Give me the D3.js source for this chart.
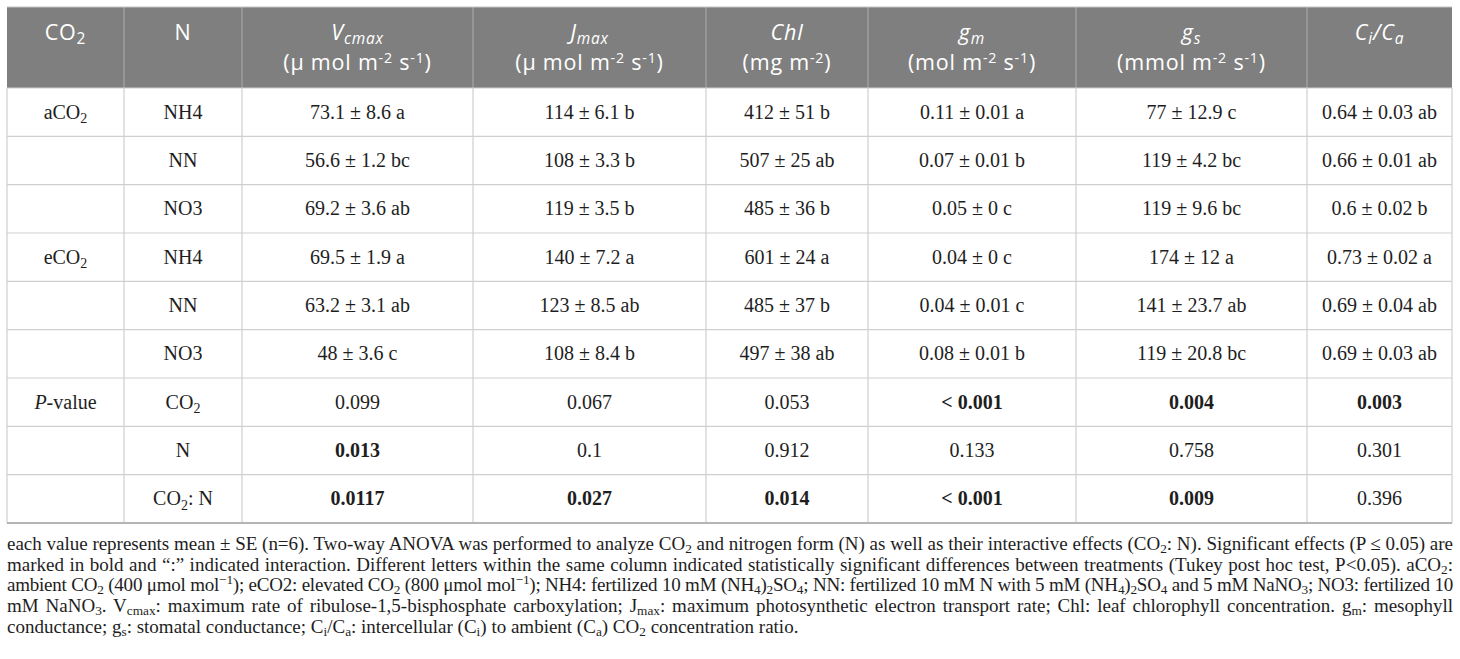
<!DOCTYPE html>
<html>
<head>
<meta charset="utf-8">
<script src="https://cdn.jsdelivr.net/npm/d3@7"></script>
<style>
	body { margin: 0; background: #fff; }
	#tbl { position: absolute; left: 0; top: 0; }
	#note {
		position: absolute; left: 7px; top: 534px; width: 1446px;
		font-family: "Liberation Serif", serif; font-size: 19px; line-height: 20.7px; color: #1e1e1e;
	}
	#note div { text-align: justify; text-align-last: justify; white-space: nowrap; }
	#note div.last { text-align-last: left; }
	#note sub, #note sup { font-size: 0.7em; line-height: 0; }
	#note sub { vertical-align: -0.25em; }
	#note sup { vertical-align: 0.5em; }
</style>
</head>
<body>
<svg id="tbl"></svg>
<div id="note"></div>
<script>
// Page size
const width = 1460;
const height = 659;

// Table frame
const tableLeft = 7;
const tableTop = 7;
const headerBottom = 88;
const tableBottom = 523;
const colWidths = [117, 118, 231, 233, 162, 208, 231, 145];

// Header text (_{..} subscript, ^{..} superscript, *..* italic)
const headerTop = ["CO_{2}", "N", "*V*_{*cmax*}", "*J*_{*max*}", "*Chl*", "*g*_{*m*}", "*g*_{*s*}", "*C*_{*i*}*/C*_{*a*}"];
const headerUnits = ["", "", "(μ mol m^{-2} s^{-1})", "(μ mol m^{-2} s^{-1})", "(mg m^{-2})", "(mol m^{-2} s^{-1})", "(mmol m^{-2} s^{-1})", ""];

// Row labels
const co2Labels = ["aCO_{2}", "", "", "eCO_{2}", "", "", "*P*-value", "", ""];
const nLabels = ["NH4", "NN", "NO3", "NH4", "NN", "NO3", "CO_{2}", "N", "CO_{2}: N"];

// Means ± SE with Tukey letters
const vcmax = ["73.1 ± 8.6 a", "56.6 ± 1.2 bc", "69.2 ± 3.6 ab", "69.5 ± 1.9 a", "63.2 ± 3.1 ab", "48 ± 3.6 c"];
const jmax = ["114 ± 6.1 b", "108 ± 3.3 b", "119 ± 3.5 b", "140 ± 7.2 a", "123 ± 8.5 ab", "108 ± 8.4 b"];
const chl = ["412 ± 51 b", "507 ± 25 ab", "485 ± 36 b", "601 ± 24 a", "485 ± 37 b", "497 ± 38 ab"];
const gm = ["0.11 ± 0.01 a", "0.07 ± 0.01 b", "0.05 ± 0 c", "0.04 ± 0 c", "0.04 ± 0.01 c", "0.08 ± 0.01 b"];
const gs = ["77 ± 12.9 c", "119 ± 4.2 bc", "119 ± 9.6 bc", "174 ± 12 a", "141 ± 23.7 ab", "119 ± 20.8 bc"];
const cica = ["0.64 ± 0.03 ab", "0.66 ± 0.01 ab", "0.6 ± 0.02 b", "0.73 ± 0.02 a", "0.69 ± 0.04 ab", "0.69 ± 0.03 ab"];

// ANOVA P-values (columns Vcmax .. Ci/Ca) and which are significant (bold)
const pCO2 = ["0.099", "0.067", "0.053", "< 0.001", "0.004", "0.003"];
const pCO2Bold = [false, false, false, true, true, true];
const pN = ["0.013", "0.1", "0.912", "0.133", "0.758", "0.301"];
const pNBold = [true, false, false, false, false, false];
const pInt = ["0.0117", "0.027", "0.014", "< 0.001", "0.009", "0.396"];
const pIntBold = [true, true, true, true, true, false];

// Footnote lines
const noteLines = [
	"each value represents mean ± SE (n=6). Two-way ANOVA was performed to analyze CO<sub>2</sub> and nitrogen form (N) as well as their interactive effects (CO<sub>2</sub>: N). Significant effects (P ≤ 0.05) are",
	"marked in bold and “:” indicated interaction. Different letters within the same column indicated statistically significant differences between treatments (Tukey post hoc test, P&lt;0.05). aCO<sub>2</sub>:",
	"ambient CO<sub>2</sub> (400 μmol mol<sup>−1</sup>); eCO2: elevated CO<sub>2</sub> (800 μmol mol<sup>−1</sup>); NH4: fertilized 10 mM (NH<sub>4</sub>)<sub>2</sub>SO<sub>4</sub>; NN: fertilized 10 mM N with 5 mM (NH<sub>4</sub>)<sub>2</sub>SO<sub>4</sub> and 5 mM NaNO<sub>3</sub>; NO3: fertilized 10",
	"mM NaNO<sub>3</sub>. V<sub>cmax</sub>: maximum rate of ribulose-1,5-bisphosphate carboxylation; J<sub>max</sub>: maximum photosynthetic electron transport rate; Chl: leaf chlorophyll concentration. g<sub>m</sub>: mesophyll",
	"conductance; g<sub>s</sub>: stomatal conductance; C<sub>i</sub>/C<sub>a</sub>: intercellular (C<sub>i</sub>) to ambient (C<sub>a</sub>) CO<sub>2</sub> concentration ratio.",
];

// Build cell table
const valueCols = [vcmax, jmax, chl, gm, gs, cica];
const pRows = [[pCO2, pCO2Bold], [pN, pNBold], [pInt, pIntBold]];
const cells = [];
co2Labels.forEach((lab, r) => {
	cells.push({ r, c: 0, text: lab, bold: false });
	cells.push({ r, c: 1, text: nLabels[r], bold: false });
	valueCols.forEach((col, k) => {
		if (r < 6) {
			cells.push({ r, c: k + 2, text: col[r], bold: false });
		} else {
			const [vals, bolds] = pRows[r - 6];
			cells.push({ r, c: k + 2, text: vals[k], bold: bolds[k] });
		}
	});
});

// Column positions from widths
const colEdges = [tableLeft, ...d3.cumsum(colWidths).map((w) => tableLeft + w)];
const tableRight = colEdges[colEdges.length - 1];
const xMid = (c) => (colEdges[c] + colEdges[c + 1]) / 2;

const yScale = d3.scaleBand().domain(d3.range(co2Labels.length)).range([headerBottom, tableBottom]);

// parse tiny markup into segments
function segs(str) {
	const out = [];
	str.split(/(_\{[^}]*\}|\^\{[^}]*\})/).forEach((p) => {
		if (!p) return;
		let s = null, body = p;
		if (p.startsWith("_{")) { s = "sub"; body = p.slice(2, -1); }
		else if (p.startsWith("^{")) { s = "sup"; body = p.slice(2, -1); }
		body.split(/(\*[^*]*\*)/).forEach((q) => {
			if (!q) return;
			const it = q.length > 1 && q.startsWith("*") && q.endsWith("*");
			out.push({ t: it ? q.slice(1, -1) : q, s, it });
		});
	});
	return out;
}

function richText(sel, str, fs, subK, supK, small) {
	let cur = 0;
	segs(str).forEach((sg) => {
		const target = sg.s === "sub" ? fs * subK : sg.s === "sup" ? -fs * supK : 0;
		sel.append("tspan")
			.attr("dy", target - cur)
			.style("font-size", sg.s ? `${fs * small}px` : `${fs}px`)
			.style("font-style", sg.it ? "italic" : "normal")
			.text(sg.t);
		cur = target;
	});
}

const svg = d3.select("#tbl").attr("width", width).attr("height", height);

// Header background
svg.append("rect")
	.attr("x", tableLeft)
	.attr("y", tableTop)
	.attr("width", tableRight - tableLeft)
	.attr("height", headerBottom - tableTop)
	.attr("fill", "#7f7f7f");

// Row lines
svg.selectAll("line.row")
	.data(d3.range(1, co2Labels.length))
	.join("line")
	.attr("class", "row")
	.attr("x1", tableLeft).attr("x2", tableRight)
	.attr("y1", (d) => yScale(d)).attr("y2", (d) => yScale(d))
	.attr("stroke", "#cfcfcf").attr("stroke-width", 1.2);

// Column lines (body)
svg.selectAll("line.col")
	.data(colEdges)
	.join("line")
	.attr("class", "col")
	.attr("x1", (d) => d).attr("x2", (d) => d)
	.attr("y1", headerBottom).attr("y2", tableBottom)
	.attr("stroke", "#cfcfcf").attr("stroke-width", 1.2);

// Column lines (header)
svg.selectAll("line.hcol")
	.data(colEdges.slice(1, -1))
	.join("line")
	.attr("class", "hcol")
	.attr("x1", (d) => d).attr("x2", (d) => d)
	.attr("y1", tableTop).attr("y2", headerBottom)
	.attr("stroke", "#a6a6a6").attr("stroke-width", 1.2);

// Outer border lines
svg.append("line")
	.attr("x1", tableLeft).attr("x2", tableRight)
	.attr("y1", tableTop).attr("y2", tableTop)
	.attr("stroke", "#c4c4c4").attr("stroke-width", 1.2);
svg.append("line")
	.attr("x1", tableLeft).attr("x2", tableRight)
	.attr("y1", headerBottom).attr("y2", headerBottom)
	.attr("stroke", "#cfcfcf").attr("stroke-width", 1.2);
svg.append("line")
	.attr("x1", tableLeft).attr("x2", tableRight)
	.attr("y1", tableBottom).attr("y2", tableBottom)
	.attr("stroke", "#b4b4b4").attr("stroke-width", 2);

// Header text
const hfs = 21.5;
headerTop.forEach((h, c) => {
	const t = svg.append("text")
		.attr("x", xMid(c)).attr("y", 40)
		.attr("text-anchor", "middle")
		.attr("fill", "#fff")
		.style("font-family", "'Open Sans', sans-serif")
		.style("letter-spacing", "0.8px")
		.style("white-space", "pre");
	richText(t, h, hfs, 0.18, 0.38, 0.72);
	if (headerUnits[c]) {
		const u = svg.append("text")
			.attr("x", xMid(c)).attr("y", 70)
			.attr("text-anchor", "middle")
			.attr("fill", "#fff")
			.style("font-family", "'Open Sans', sans-serif")
			.style("letter-spacing", "0.8px")
			.style("white-space", "pre");
		richText(u, headerUnits[c], hfs, 0.22, 0.34, 0.66);
	}
});

// Body text
const bfs = 20;
cells.forEach((d) => {
	if (!d.text) return;
	const t = svg.append("text")
		.attr("x", xMid(d.c))
		.attr("y", yScale(d.r) + yScale.bandwidth() / 2 + 6.5)
		.attr("text-anchor", "middle")
		.attr("fill", "#1e1e1e")
		.style("font-family", "'Liberation Serif', serif")
		.style("font-weight", d.bold ? "bold" : "normal")
		.style("white-space", "pre");
	richText(t, d.text, bfs, 0.22, 0.4, 0.7);
});

// Footnote, each line squeezed to fit if too long
const noteWidth = 1446;
d3.select("#note")
	.selectAll("div")
	.data(noteLines)
	.join("div")
	.attr("class", (d, i) => (i === noteLines.length - 1 ? "last" : null))
	.html((d) => `<span>${d}</span>`)
	.each(function () {
		const span = this.querySelector("span");
		const w = span.getBoundingClientRect().width;
		if (w > noteWidth) {
			const n = span.textContent.length;
			d3.select(this).style("letter-spacing", `${(noteWidth - w - 2) / n}px`);
		}
	});
</script>
</body>
</html>
